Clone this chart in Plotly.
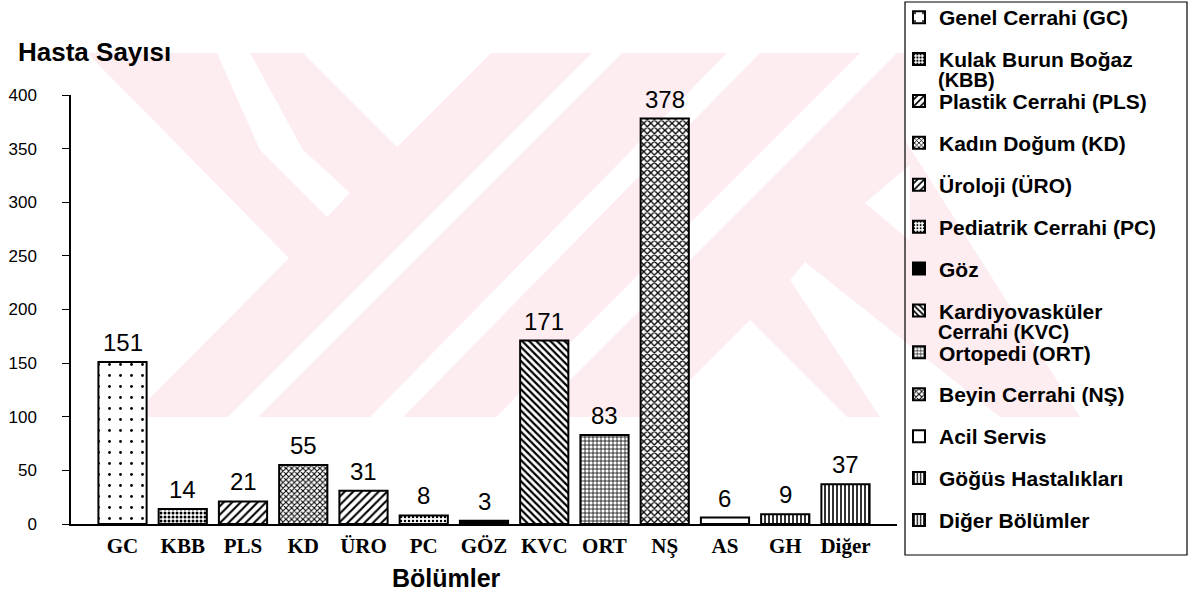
import plotly.graph_objects as go

# ---------------- data ----------------
categories = ["GC", "KBB", "PLS", "KD", "ÜRO", "PC", "GÖZ", "KVC", "ORT", "NŞ", "AS", "GH", "Diğer"]
values = [151, 14, 21, 55, 31, 8, 3, 171, 83, 378, 6, 9, 37]
legend_names = ["Genel Cerrahi (GC)", "Kulak Burun Boğaz", "Plastik Cerrahi (PLS)",
                "Kadın Doğum (KD)", "Üroloji (ÜRO)", "Pediatrik Cerrahi (PC)", "Göz",
                "Kardiyovasküler", "Ortopedi (ORT)", "Beyin Cerrahi (NŞ)", "Acil Servis",
                "Göğüs Hastalıkları", "Diğer Bölümler"]
y_ticks = [0, 50, 100, 150, 200, 250, 300, 350, 400]

# ---------------- styles ----------------
patterns = [
    dict(shape=".", size=11, solidity=0.05),
    dict(shape=".", size=4, solidity=0.45),
    dict(shape="/", size=6, solidity=0.35),
    dict(shape="x", size=4, solidity=0.45),
    dict(shape="/", size=6, solidity=0.35),
    dict(shape=".", size=4, solidity=0.3),
    dict(shape="", size=4, solidity=0.3),
    dict(shape="\\", size=5, solidity=0.45),
    dict(shape="+", size=4, solidity=0.35),
    dict(shape="x", size=5, solidity=0.45),
    dict(shape="", size=4, solidity=0.3),
    dict(shape="|", size=4, solidity=0.4),
    dict(shape="|", size=4, solidity=0.4),
]
bar_colors = ["white"] * 13
bar_colors[6] = "black"

SANS = "Liberation Sans, Arial, sans-serif"
SERIF = "Liberation Serif, Times New Roman, serif"

W, H = 1188, 592
ML, MR, MT, MB = 71, 291, 95, 68
PW, PH = W - ML - MR, H - MT - MB


def px(x, y):
    return ((x - ML) / PW, (H - MB - y) / PH)


def poly(points):
    pts = [px(x, y) for x, y in points]
    return "M " + " L ".join(f"{a:.4f},{b:.4f}" for a, b in pts) + " Z"


fig = go.Figure()
for i, cat in enumerate(categories):
    p = patterns[i]
    fig.add_trace(go.Bar(
        x=[cat], y=[values[i]], name=legend_names[i], legendgroup=cat,
        width=0.8,
        marker=dict(color=bar_colors[i], line=dict(color="black", width=2),
                    pattern=dict(shape=p["shape"], size=p["size"], solidity=p["solidity"],
                                 fgcolor="black", bgcolor=bar_colors[i], fillmode="replace")),
        hoverinfo="x+y",
    ))

# ---------------- watermark (background decoration) ----------------
PINK = "#fdecf0"
shapes = []
hull = [(87, 53), (905, 53), (905, 140), (1080, 417), (131, 417), (289, 258)]
shapes.append(dict(type="path", xref="paper", yref="paper", path=poly(hull),
                   fillcolor=PINK, line=dict(width=0), layer="below"))
cutouts = [
    [(217, 53), (250, 53), (303, 150), (350, 193), (327, 217), (260, 150)],
    [(303, 53), (491, 53), (397, 147)],
    [(592, 53), (622, 53), (258, 417), (228, 417)],
    [(727, 53), (760, 53), (403, 417), (370, 417)],
    [(860, 53), (897, 53), (533, 417), (496, 417)],
    [(653, 417), (750, 320), (847, 417)],
    [(910, 165), (865, 203), (910, 241)],
    [(805, 262), (1000, 417), (880, 417), (790, 280)],
]
for c in cutouts:
    shapes.append(dict(type="path", xref="paper", yref="paper", path=poly(c),
                       fillcolor="white", line=dict(width=0), layer="below"))

# legend frame
x0, y0 = px(905, 2)
x1, y1 = px(1187, 555)
shapes.append(dict(type="rect", xref="paper", yref="paper", x0=x0, y0=y1, x1=x1, y1=y0,
                   line=dict(color="black", width=1.2), fillcolor="rgba(0,0,0,0)", layer="above"))

annotations = []
# value labels above bars
for cat, v in zip(categories, values):
    annotations.append(dict(x=cat, y=v, xref="x", yref="y", text=str(v), showarrow=False,
                            xanchor="center", yanchor="bottom", yshift=4,
                            font=dict(family=SANS, size=24, color="black")))
hx, hy = px(16, 52)
annotations.append(dict(xref="paper", yref="paper", x=hx, y=hy, xanchor="left", yanchor="middle",
                        text="Hasta Sayısı", showarrow=False,
                        font=dict(family=SANS, size=26, color="black", weight="bold")))
bx, by = px(446, 578)
annotations.append(dict(xref="paper", yref="paper", x=bx, y=by, xanchor="center", yanchor="middle",
                        text="Bölümler", showarrow=False,
                        font=dict(family=SANS, size=25, color="black", weight="bold")))
for txt, yy in [("(KBB)", 80), ("Cerrahi (KVC)", 332)]:
    ax, ay = px(937, yy)
    annotations.append(dict(xref="paper", yref="paper", x=ax, y=ay, xanchor="left", yanchor="middle",
                            text=txt, showarrow=False, borderpad=0,
                            font=dict(family=SANS, size=20, color="black", weight="bold")))

lx, ly = px(899, -3)
fig.update_layout(
    width=W, height=H,
    margin=dict(l=ML, r=MR, t=MT, b=MB, pad=0, autoexpand=False),
    barmode="overlay",
    paper_bgcolor="white", plot_bgcolor="rgba(0,0,0,0)",
    showlegend=True,
    legend=dict(x=lx, y=ly, xref="paper", yref="paper", xanchor="left", yanchor="top",
                traceorder="grouped",
                tracegroupgap=11.6, bgcolor="rgba(0,0,0,0)", borderwidth=0, itemwidth=30,
                font=dict(family=SANS, size=21, color="black", weight="bold")),
    xaxis=dict(type="category", categoryorder="array", categoryarray=categories,
               range=[-0.855, 12.855], showline=True, linecolor="black", linewidth=1.5,
               ticks="", showgrid=False, zeroline=False, ticklabelstandoff=2,
               tickfont=dict(family=SERIF, size=21, color="black", weight="bold")),
    yaxis=dict(range=[0, 400], tickvals=y_ticks, ticks="outside", ticklen=7, tickwidth=1.2,
               tickcolor="black", showline=True, linecolor="black", linewidth=1.5,
               showgrid=False, zeroline=False, ticklabelstandoff=22,
               tickfont=dict(family=SANS, size=17, color="black")),
    shapes=shapes,
    annotations=annotations,
    font=dict(family=SANS, color="black"),
)
try:
    fig.update_layout(legend_maxheight=600)
except Exception:
    pass

fig.write_html("out.html")
